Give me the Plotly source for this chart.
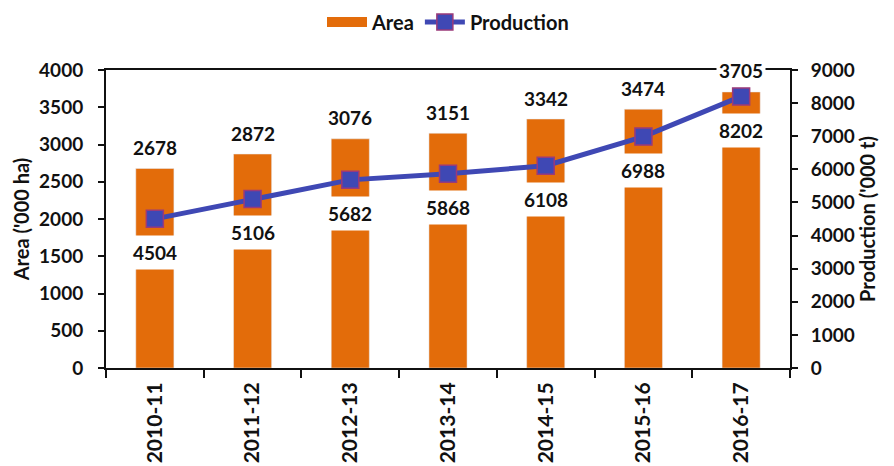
import plotly.graph_objects as go

# Crop area and production by season
seasons = ["2010-11", "2011-12", "2012-13", "2013-14", "2014-15", "2015-16", "2016-17"]
area = [2678, 2872, 3076, 3151, 3342, 3474, 3705]          # '000 ha
production = [4504, 5106, 5682, 5868, 6108, 6988, 8202]    # '000 t

BAR = "#E36C0A"
LINE = "#3F48B4"
FONT = "Lato"

fig = go.Figure()

fig.add_trace(go.Bar(
    x=seasons, y=area, name="Area",
    marker=dict(color=BAR), width=0.39,
    yaxis="y", showlegend=False,
))
# wide orange swatch for the Area legend entry
fig.add_trace(go.Scatter(
    x=[None], y=[None], name="Area", mode="lines",
    line=dict(color=BAR, width=13), yaxis="y",
))

fig.add_trace(go.Scatter(
    x=seasons, y=production, name="Production",
    mode="lines+markers",
    line=dict(color=LINE, width=5),
    marker=dict(symbol="square", size=17, color=LINE,
                line=dict(color="#9A3A7A", width=1.5)),
    yaxis="y2",
))

annotations = []
for s, a in zip(seasons, area):
    annotations.append(dict(
        x=s, y=a, xref="x", yref="y", yshift=21,
        text=f"<b>{a}</b>", showarrow=False,
        font=dict(family=FONT, size=19, color="#111"),
        bgcolor="white", borderpad=2,
    ))
for s, p in zip(seasons, production):
    annotations.append(dict(
        x=s, y=p, xref="x", yref="y2", yshift=-34,
        text=f"<b>{p}</b>", showarrow=False,
        font=dict(family=FONT, size=19, color="#111"),
        bgcolor="white", borderpad=5,
    ))

tickfont = dict(family=FONT, size=19, color="#111", weight="bold")
xtickfont = dict(family=FONT, size=21, color="#111", weight="bold")
titlefont = dict(family=FONT, size=20, color="#111", weight="bold")

fig.update_layout(
    width=894, height=466,
    margin=dict(l=106, r=104, t=70, b=98, autoexpand=False),
    paper_bgcolor="white", plot_bgcolor="white",
    showlegend=True,
    legend=dict(orientation="h", x=0.5, xanchor="center",
                yref="container", y=0.953, yanchor="middle",
                font=dict(family=FONT, size=20, color="#111", weight="bold"),
                itemwidth=40, traceorder="normal", tracegroupgap=0),
    xaxis=dict(
        type="category", tickangle=-90, tickfont=xtickfont,
        showline=True, linecolor="#111", linewidth=2, mirror=True,
        ticks="outside", ticklen=8, tickwidth=2, tickcolor="#111",
        tickson="boundaries", showgrid=False, ticklabelstandoff=4,
    ),
    yaxis=dict(
        range=[0, 4000], dtick=500, tickfont=tickfont,
        title=dict(text="Area ('000 ha)", font=titlefont, standoff=4),
        showline=True, linecolor="#111", linewidth=2,
        ticks="outside", ticklen=6, tickwidth=2, tickcolor="#111",
        showgrid=False, zeroline=False, ticklabelstandoff=11,
    ),
    yaxis2=dict(
        range=[0, 9000], dtick=1000, overlaying="y", side="right",
        tickfont=tickfont,
        title=dict(text="Production ('000 t)", font=titlefont, standoff=4),
        showline=True, linecolor="#111", linewidth=2,
        ticks="outside", ticklen=6, tickwidth=2, tickcolor="#111",
        showgrid=False, zeroline=False, ticklabelstandoff=9,
    ),
    annotations=annotations,
)

fig.write_html("out.html")
